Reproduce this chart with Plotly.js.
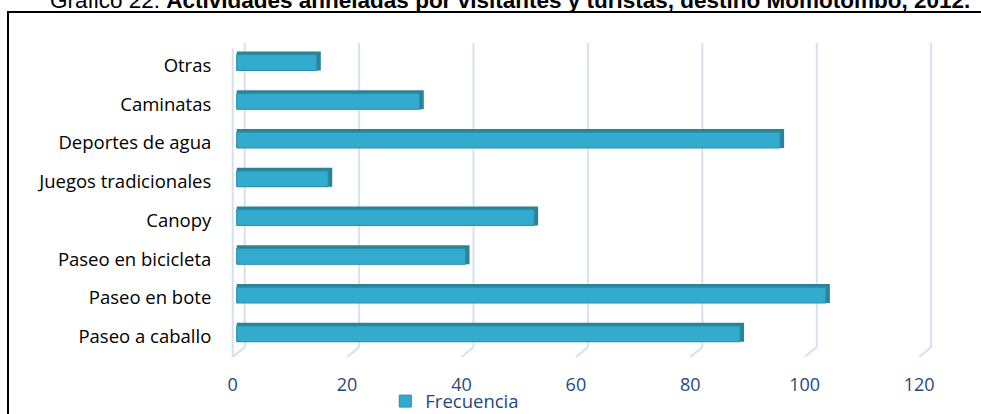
<!DOCTYPE html>
<html>
<head>
<meta charset="utf-8">
<script src="https://cdn.plot.ly/plotly-3.0.1.min.js"></script>
<style>
  html, body { margin: 0; padding: 0; background: #fff; }
  #wrap { position: relative; width: 981px; height: 414px; overflow: hidden; }
  #chart { width: 981px; height: 414px; }
  #frame { position: absolute; left: 7px; top: 11px; width: 990px; height: 420px;
           border-left: 2px solid #000; border-top: 2px solid #000; pointer-events: none; }
</style>
</head>
<body>
<div id="wrap">
  <div id="chart"></div>
  <div id="frame"></div>
</div>
<script>
// Data (bottom to top)
const categories = ['Paseo a caballo', 'Paseo en bote', 'Paseo en bicicleta', 'Canopy',
                    'Juegos tradicionales', 'Deportes de agua', 'Caminatas', 'Otras'];
const frecuencia = [88, 103, 40, 52, 16, 95, 32, 14];
const tickValues = [0, 20, 40, 60, 80, 100, 120];
const seriesName = 'Frecuencia';
const titleText = 'Gráfico 22. <b>Actividades anheladas por visitantes y turistas, destino Momotombo, 2012.</b>';

const frontColor = '#33abcf';
const darkColor = '#2a8399';
const gridColor = '#d5e1f2';

// 3D look: darker top/side face behind the front face
const topFace = {
  type: 'bar', orientation: 'h',
  x: frecuencia.map(v => v + 0.7), y: categories,
  width: 0.49, offset: -0.21,
  marker: { color: darkColor, line: { width: 0 } },
  showlegend: false, hoverinfo: 'skip'
};
const front = {
  type: 'bar', orientation: 'h', name: seriesName,
  x: frecuencia, y: categories,
  width: 0.41, offset: -0.21,
  marker: { color: frontColor, line: { color: '#2c8ca6', width: 1 } }
};

// Back-wall gridlines and floor diagonals
const backOff = 1.4, frontOff = -0.7, backB = 0.019, frontB = -0.013;
const shapes = [];
tickValues.forEach(t => {
  shapes.push({ type: 'line', xref: 'x', yref: 'paper', x0: t + backOff, x1: t + backOff,
    y0: backB, y1: 1.0, line: { color: gridColor, width: 2 }, layer: 'below' });
  shapes.push({ type: 'line', xref: 'x', yref: 'paper', x0: t + backOff, x1: t + frontOff,
    y0: backB, y1: frontB, line: { color: gridColor, width: 2 }, layer: 'below' });
});
shapes.push({ type: 'line', xref: 'x', yref: 'paper', x0: frontOff, x1: frontOff,
  y0: frontB, y1: 0.985, line: { color: gridColor, width: 2 }, layer: 'below' });

const layout = {
  width: 981, height: 414,
  margin: { l: 231, r: 35, t: 43, b: 61 },
  paper_bgcolor: '#fff', plot_bgcolor: 'rgba(0,0,0,0)',
  barmode: 'overlay',
  title: { text: titleText, x: 0.52, xanchor: 'center', xref: 'container',
           y: 0.999, yanchor: 'middle', yref: 'container',
           font: { family: 'Liberation Sans, Arial, sans-serif', size: 22.5, color: '#000' } },
  xaxis: { range: [-1, 124], tickvals: tickValues, showgrid: false, zeroline: false,
           showline: false, ticks: 'outside', ticklen: 15, tickcolor: 'rgba(0,0,0,0)',
           ticklabelshift: -4, automargin: false,
           tickfont: { family: 'Open Sans, sans-serif', size: 18, color: '#1f497d' } },
  yaxis: { range: [-0.5, 7.5], type: 'category', showgrid: false, zeroline: false,
           showline: false, ticks: 'outside', ticklen: 15, tickcolor: 'rgba(0,0,0,0)',
           ticklabelshift: 3, automargin: false,
           tickfont: { family: 'Open Sans, sans-serif', size: 18.5, color: '#000' } },
  showlegend: true,
  legend: { orientation: 'h', x: 0.313, xanchor: 'center',
            yref: 'container', y: 0.03, yanchor: 'middle',
            font: { family: 'Open Sans, sans-serif', size: 18.5, color: '#1f497d' },
            itemwidth: 30, bgcolor: 'rgba(0,0,0,0)' },
  shapes: shapes
};

Plotly.newPlot('chart', [topFace, front], layout, { displayModeBar: false, staticPlot: true });
</script>
</body>
</html>
